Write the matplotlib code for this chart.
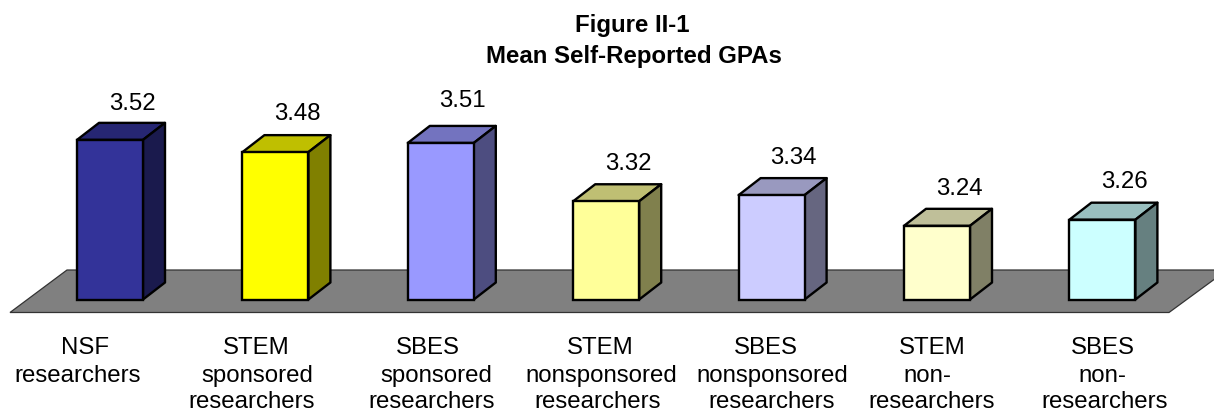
import matplotlib
matplotlib.use("Agg")
import matplotlib.pyplot as plt
from matplotlib.patches import Polygon
from matplotlib.colors import to_rgb

labels = [["NSF", "researchers"],
          ["STEM", "sponsored", "researchers"],
          ["SBES", "sponsored", "researchers"],
          ["STEM", "nonsponsored", "researchers"],
          ["SBES", "nonsponsored", "researchers"],
          ["STEM", "non-", "researchers"],
          ["SBES", "non-", "researchers"]]
gpas = [3.52, 3.48, 3.51, 3.32, 3.34, 3.24, 3.26]
bar_colors = ["#333399", "#ffff00", "#9999ff", "#ffff99", "#ccccff", "#ffffcc", "#ccffff"]

W, H = 1214, 412
BAR_STEP = 165.4    # px between bars
UNIT = 307.0        # px per GPA point
BASE = 3.0
X0, Y0 = 110, 299.5  # px position of first bar centre / baseline
DX = 22 / BAR_STEP   # 3d depth of the bars, in data units
DY = 17 / UNIT
FONT = 17.3
EDGE = 1.7

# the label rows aren't quite centred on each other in the original
label_px = [[85, 77.5], [256, 257, 251.5], [428, 436, 432], [600, 601, 598],
            [766, 772, 772], [932, 927, 932], [1103, 1102, 1105]]
row_y = [353.5, 381.5, 408]  # text baselines
value_gap = [13, 15, 19, 14, 14, 14, 14.5]  # px from back top edge up to value baseline


def shade(color, factor):
    return tuple(c * factor for c in to_rgb(color))


def px_x(px):
    return (px - X0) / BAR_STEP


def px_y(py):
    return BASE + (Y0 - py) / UNIT


plt.rcParams["font.family"] = ["Liberation Sans", "DejaVu Sans"]
fig = plt.figure(figsize=(W / 100, H / 100), dpi=100)
ax = fig.add_axes([0, 0, 1, 1])
ax.set_xlim(px_x(0), px_x(W))
ax.set_ylim(px_y(H), px_y(0))
ax.axis("off")

# grey floor
floor = [(px_x(10), px_y(312.5)), (px_x(1169), px_y(312.5)), (px_x(1227), px_y(270)), (px_x(67), px_y(270))]
ax.add_patch(Polygon(floor, closed=True, facecolor="#808080", edgecolor="#333333", linewidth=0.9, zorder=1))

bar_w = 66 / BAR_STEP
for i, (gpa, color) in enumerate(zip(gpas, bar_colors)):
    left, right = i - bar_w / 2, i + bar_w / 2
    top_face = [(left, gpa), (right, gpa), (right + DX, gpa + DY), (left + DX, gpa + DY)]
    side_face = [(right, BASE), (right + DX, BASE + DY), (right + DX, gpa + DY), (right, gpa)]
    ax.add_patch(Polygon(top_face, closed=True, facecolor=shade(color, 0.75), edgecolor="black",
                         linewidth=EDGE, joinstyle="round", zorder=3))
    ax.add_patch(Polygon(side_face, closed=True, facecolor=shade(color, 0.5), edgecolor="black",
                         linewidth=EDGE, joinstyle="round", zorder=3))
    ax.bar(i, gpa - BASE, bottom=BASE, width=bar_w, color=color, edgecolor="black", linewidth=EDGE, zorder=4)
    ax.text(i + DX, gpa + DY + value_gap[i] / UNIT, f"{gpa:.2f}", ha="center", va="baseline",
            fontsize=FONT, color="black")

for rows, xs in zip(labels, label_px):
    for row, px, py in zip(rows, xs, row_y):
        ax.text(px_x(px), px_y(py), row, ha="center", va="baseline", fontsize=FONT, color="black")

ax.text(px_x(632.5), px_y(32), "Figure II-1", ha="center", va="baseline",
        fontsize=FONT, fontweight="bold", color="black")
ax.text(px_x(633.5), px_y(63), "Mean Self-Reported GPAs", ha="center", va="baseline",
        fontsize=FONT, fontweight="bold", color="black")

fig.savefig("out.png", dpi=100)
